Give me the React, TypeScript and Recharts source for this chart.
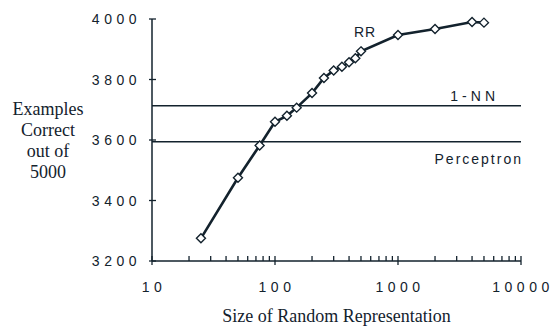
import React from "react"
import { LineChart, Line, XAxis, YAxis, ReferenceLine } from "recharts"

// size of random representation vs examples correct (out of 5000)
const sizes = [25, 50, 75, 100, 125, 150, 200, 250, 300, 350, 400, 450, 500, 1000, 2000, 4000, 5000]
const correct = [3275, 3475, 3582, 3660, 3680, 3707, 3755, 3805, 3830, 3842, 3857, 3870, 3893, 3947, 3967, 3990, 3988]

const nnLevel = 3713
const perceptronLevel = 3594

const xTicks = [10, 20, 30, 40, 50, 60, 70, 80, 90, 100, 200, 300, 400, 500, 600, 700, 800, 900, 1000, 2000, 3000, 4000, 5000, 6000, 7000, 8000, 9000, 10000]
const xLabels = [10, 100, 1000, 10000]
const yTicks = [3200, 3400, 3600, 3800, 4000]

const data = sizes.map((size, i) => ({ size, correct: correct[i] }))

const ink = "#13222d"
const sans = "'Liberation Sans', Arial, sans-serif"
const serif = "'Liberation Serif', 'Times New Roman', serif"

function Diamond(props: any) {
  const { cx, cy } = props
  if (cx == null || cy == null) return null
  const r = 4.5
  return (
    <path
      d={`M${cx},${cy - r} L${cx + r},${cy} L${cx},${cy + r} L${cx - r},${cy} Z`}
      fill="#fff"
      stroke={ink}
      strokeWidth={1.4}
    />
  )
}

function XTick(props: any) {
  const { x, y, payload } = props
  const major = xLabels.includes(payload.value)
  return (
    <g>
      <line x1={x} x2={x} y1={major ? y + 4 : y} y2={y - 5} stroke={ink} strokeWidth={1.3} />
      {major && (
        <text x={x + 2} y={y + 31} textAnchor="middle" fontFamily={sans} fontSize={14} letterSpacing={4.5} fill={ink}>
          {payload.value}
        </text>
      )}
    </g>
  )
}

function YTick(props: any) {
  const { x, y, payload } = props
  return (
    <g>
      <line x1={x - 3} x2={x + 4} y1={y} y2={y} stroke={ink} strokeWidth={1.3} />
      <text x={x - 11} y={y + 5} textAnchor="end" fontFamily={sans} fontSize={14} letterSpacing={4.5} fill={ink}>
        {payload.value}
      </text>
    </g>
  )
}

export default function App() {
  return (
    <div style={{ position: "absolute", left: 0, top: 0, width: 556, height: 327, background: "#fff" }}>
      <LineChart width={556} height={327} data={data} margin={{ top: 19, right: 35, bottom: 36, left: 92 }}>
        <XAxis
          dataKey="size"
          type="number"
          scale="log"
          domain={[10, 10000]}
          ticks={xTicks}
          interval={0}
          height={30}
          tickSize={0}
          tickMargin={0}
          tick={<XTick />}
          axisLine={{ stroke: ink, strokeWidth: 1.5 }}
          allowDataOverflow
        />
        <YAxis
          type="number"
          domain={[3200, 4000]}
          ticks={yTicks}
          width={60}
          tickSize={0}
          tickMargin={0}
          tick={<YTick />}
          axisLine={{ stroke: ink, strokeWidth: 1.5 }}
        />
        <ReferenceLine
          y={nnLevel}
          stroke={ink}
          strokeWidth={1.5}
          label={{ value: "1-NN", position: "insideTopRight", offset: 0, dx: -22, dy: -15, fill: ink, fontSize: 14, fontFamily: sans, letterSpacing: 4 }}
        />
        <ReferenceLine
          y={perceptronLevel}
          stroke={ink}
          strokeWidth={1.5}
          label={{ value: "Perceptron", position: "insideBottomRight", offset: 0, dx: 2, dy: 22, fill: ink, fontSize: 14, fontFamily: sans, letterSpacing: 2 }}
        />
        <Line
          dataKey="correct"
          type="linear"
          stroke={ink}
          strokeWidth={2.6}
          dot={<Diamond />}
          activeDot={false}
          isAnimationActive={false}
        />
      </LineChart>
      <div style={{ position: "absolute", left: 354, top: 24, fontFamily: sans, fontSize: 14, color: ink, letterSpacing: 1 }}>RR</div>
      <div
        style={{
          position: "absolute",
          left: 0,
          width: 96,
          top: 99,
          textAlign: "center",
          fontFamily: serif,
          fontSize: 18,
          lineHeight: "21px",
          color: ink,
        }}
      >
        Examples
        <br />
        Correct
        <br />
        out of
        <br />
        5000
      </div>
      <div
        style={{
          position: "absolute",
          left: 152,
          width: 369,
          top: 306,
          textAlign: "center",
          fontFamily: serif,
          fontSize: 18,
          color: ink,
        }}
      >
        Size of Random Representation
      </div>
    </div>
  )
}
